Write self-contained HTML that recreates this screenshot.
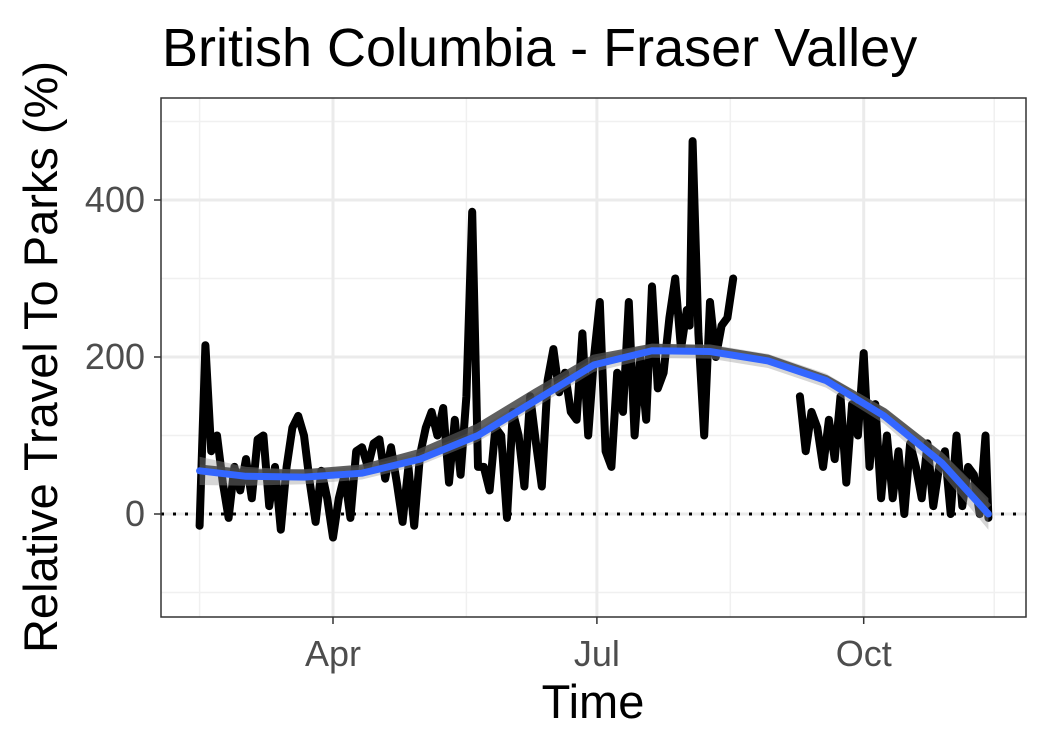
<!DOCTYPE html>
<html><head><meta charset="utf-8"><style>
body{margin:0;background:#fff;}
svg text{font-family:"Liberation Sans",Arial,sans-serif;}
</style></head><body>
<svg id="c" width="1050" height="750" xmlns="http://www.w3.org/2000/svg">
<rect width="1050" height="750" fill="#fff"/>
<text x="162" y="66" font-size="54" fill="#000">British Columbia - Fraser Valley</text>
<g id="grid"></g>
<g id="marks"></g>
<rect x="161" y="98" width="865" height="519" fill="none" stroke="#333" stroke-width="1.5"/>
<g id="axes"></g>
<text x="593" y="718" font-size="47" text-anchor="middle" fill="#000">Time</text>
<text transform="translate(57,357) rotate(-90)" font-size="47" text-anchor="middle" fill="#000">Relative Travel To Parks (%)</text>
</svg>
<script>
// days since Apr 1
const days1=[-46,-44,-42,-40,-38,-36,-34,-32,-30,-28,-26,-24,-22,-20,-18,-16,-14,-12,-10,-8,-6,-4,-2,0,2,4,6,8,10,12,14,16,18,20,22,24,26,28,30,32,34,36,38,40,42,44,46,48,50,52,54,56,58,60,62,64,66,68,70,72,74,76,78,80,82,84,86,88,90,92,94,96,98,100,102,104,106,108,110,112,114,116,118,120,122,123,124,126,128,130,132,134,136,138];
const vals1=[-15,215,80,100,40,-5,60,30,70,20,95,100,10,60,-20,60,110,125,100,40,-10,55,20,-30,20,50,-5,80,85,60,90,95,45,85,40,-10,60,-15,75,110,130,100,135,40,120,50,150,385,60,60,30,110,100,-5,130,100,35,150,90,35,170,210,155,180,130,120,230,100,200,270,80,60,180,130,270,100,200,120,290,160,180,250,300,210,260,240,475,230,100,270,200,240,250,300];
const days2=[161,163,165,167,169,171,173,175,177,179,181,183,185,187,189,191,193,195,197,199,201,203,205,207,209,211,213,215,217,219,221,223,225,226];
const vals2=[150,80,130,110,60,120,70,150,40,140,100,205,60,140,20,100,20,80,0,90,60,20,90,10,60,80,0,100,10,60,50,0,100,-5];
const smoothDays=[-46,-30,-10,10,30,50,70,90,110,130,150,170,190,210,226];
const smoothVals=[55,48,47,52,70,100,145,190,208,207,195,170,125,65,0];
const darkVals=[58,52,52,58,78,110,155,198,212,210,198,172,130,72,8];
const seHalf=[18,12,9,8,8,8,9,9,9,9,9,9,10,14,20];
const yTicks=[0,200,400];
const yMinor=[-100,100,300,500];
const xTickDays=[0,91,183];
const xTickLabels=["Apr","Jul","Oct"];
const xMinorDays=[-46,46,137,228];

const X=d=>333+d*2.9;
const Y=v=>514-v*0.785;
const NS="http://www.w3.org/2000/svg";
function mk(tag,attrs,parent){const e=document.createElementNS(NS,tag);for(const k in attrs)e.setAttribute(k,attrs[k]);parent.appendChild(e);return e;}
const grid=document.getElementById('grid'),marks=document.getElementById('marks'),axes=document.getElementById('axes');
mk('rect',{x:161,y:98,width:865,height:519,fill:'#fff'},grid);
yMinor.forEach(v=>{const l=mk('line',{x1:161,x2:1026,y1:Y(v),y2:Y(v),stroke:'#f0f0f0','stroke-width':1.5},grid);

});
xMinorDays.forEach(d=>{const l=mk('line',{x1:X(d),x2:X(d),y1:98,y2:617,stroke:'#f0f0f0','stroke-width':1.5},grid);

});
yTicks.forEach(v=>{const l=mk('line',{x1:161,x2:1026,y1:Y(v),y2:Y(v),stroke:'#ebebeb','stroke-width':3},grid);


const t=mk('line',{x1:154,x2:161,y1:Y(v),y2:Y(v),stroke:'#333','stroke-width':1.5},axes);


const tx=mk('text',{x:145,y:Y(v)+12,'font-size':36,'text-anchor':'end',fill:'#4d4d4d'},axes);tx.textContent=v;

});
xTickDays.forEach((d,i)=>{const l=mk('line',{x1:X(d),x2:X(d),y1:98,y2:617,stroke:'#ebebeb','stroke-width':3},grid);


const t=mk('line',{x1:X(d),x2:X(d),y1:617,y2:624,stroke:'#333','stroke-width':1.5},axes);


const tx=mk('text',{x:X(d),y:666,'font-size':36,'text-anchor':'middle',fill:'#4d4d4d'},axes);tx.textContent=xTickLabels[i];

});
const zl=mk('line',{x1:161,x2:1026,y1:Y(0),y2:Y(0),stroke:'#000','stroke-width':3,'stroke-dasharray':'3 9'},marks);


function path(ds,vs){return ds.map((d,i)=>(i?'L':'M')+X(d).toFixed(1)+' '+Y(vs[i]).toFixed(1)).join(' ');}
const s1=mk('path',{d:path(days1,vals1),fill:'none',stroke:'#000','stroke-width':8,'stroke-linejoin':'round','stroke-linecap':'round'},marks);


const s2=mk('path',{d:path(days2,vals2),fill:'none',stroke:'#000','stroke-width':8,'stroke-linejoin':'round','stroke-linecap':'round'},marks);


const up=smoothDays.map((d,i)=>X(d).toFixed(1)+','+Y(smoothVals[i]+seHalf[i]).toFixed(1));
const lo=smoothDays.map((d,i)=>X(d).toFixed(1)+','+Y(smoothVals[i]-seHalf[i]).toFixed(1)).reverse();
const rb=mk('polygon',{points:up.concat(lo).join(' '),fill:'#999','fill-opacity':0.4},marks);


const dk=mk('path',{d:path(smoothDays,darkVals),fill:'none',stroke:'#444','stroke-width':8,'stroke-opacity':0.85},marks);


const bl=mk('path',{d:path(smoothDays,smoothVals),fill:'none',stroke:'#3366ff','stroke-width':7,'stroke-linecap':'round'},marks);


</script>
</body></html>
